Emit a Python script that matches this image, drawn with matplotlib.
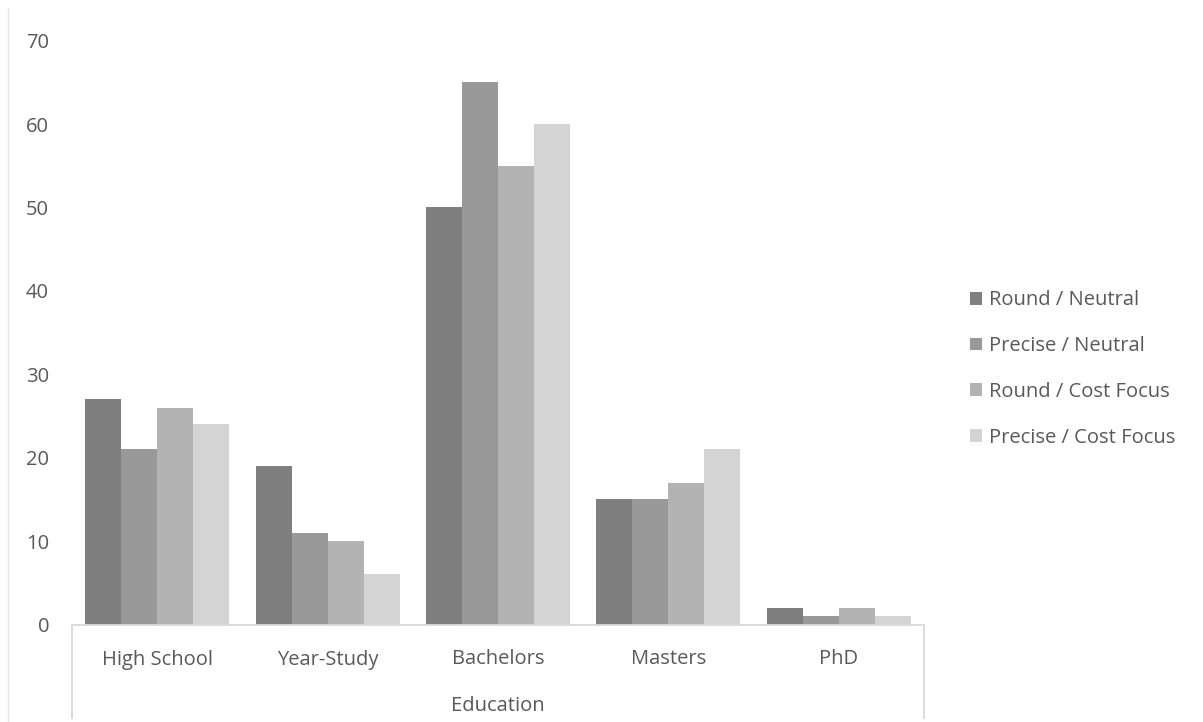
import matplotlib
matplotlib.use("Agg")
import matplotlib.pyplot as plt
import numpy as np
from matplotlib.lines import Line2D

categories = ["High School", "Year-Study", "Bachelors", "Masters", "PhD"]
series_names = ["Round / Neutral", "Precise / Neutral", "Round / Cost Focus", "Precise / Cost Focus"]
round_neutral = [27, 19, 50, 15, 2]
precise_neutral = [21, 11, 65, 15, 1]
round_cost = [26, 10, 55, 17, 2]
precise_cost = [24, 6, 60, 21, 1]
yticks = [0, 10, 20, 30, 40, 50, 60, 70]

series = [round_neutral, precise_neutral, round_cost, precise_cost]
colors = ["#7f7f7f", "#999999", "#b3b3b3", "#d4d4d4"]
txt = "#595959"
plt.rcParams['font.family'] = ['Open Sans', 'DejaVu Sans']
fs = 14.5

fig = plt.figure(figsize=(12.03, 7.22), dpi=100)
ax = fig.add_axes([72/1203, 1-624.5/722, (924-72)/1203, (624.5-40.6)/722])

x = np.arange(len(categories))
bw = 36/170.4
for i, (vals, c, name) in enumerate(zip(series, colors, series_names)):
    ax.bar(x + (i-1.5)*bw, vals, width=bw, color=c, label=name, linewidth=0)

ax.set_xlim(-0.5, len(categories)-0.5)
ax.set_ylim(0, 70)
ax.set_yticks(yticks)
ax.set_yticklabels([str(t) for t in yticks], fontsize=fs, color=txt)
ax.set_xticks(x)
ax.set_xticklabels(categories, fontsize=fs, color=txt)
ax.tick_params(axis='y', length=0, pad=16.5)
ax.tick_params(axis='x', length=0, pad=18)
for s in ax.spines.values():
    s.set_visible(False)

lc = "#d9d9d9"
h = 584
ax.plot([0, 1], [0, 0], transform=ax.transAxes, color=lc, lw=1.3, clip_on=False)
ax.plot([0, 0], [0, -94/h], transform=ax.transAxes, color=lc, lw=1.3, clip_on=False)
ax.plot([1, 1], [0, -94/h], transform=ax.transAxes, color=lc, lw=1.3, clip_on=False)
fig.add_artist(Line2D([8/1203, 8/1203], [0, 1-8/722], color="#e6e6e6", lw=1))

ax.set_xlabel("Education", fontsize=fs, color=txt, labelpad=19)

leg = ax.legend(loc='center left', bbox_to_anchor=(952/1203, 1-369/722), bbox_transform=fig.transFigure,
                frameon=False, fontsize=fs, labelcolor=txt, handlelength=0.6, handleheight=0.6,
                handletextpad=0.35, labelspacing=1.28)

fig.savefig("out.png", dpi=100)
